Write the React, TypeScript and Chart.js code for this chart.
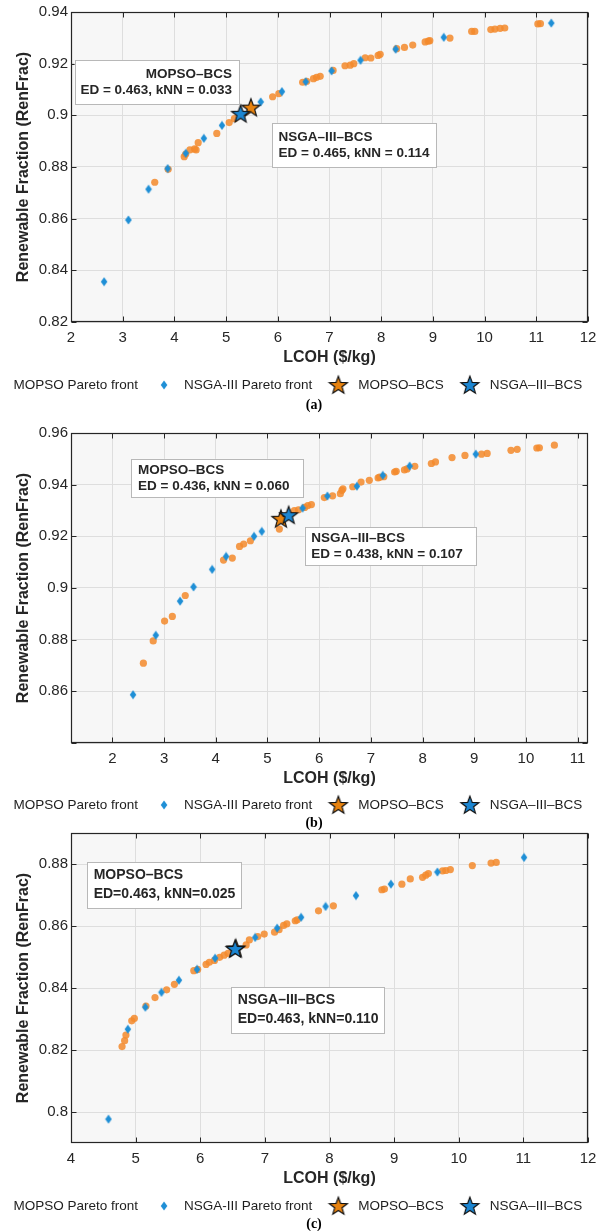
import React, { useEffect, useRef } from 'react';
import { Chart, registerables } from 'chart.js';

Chart.register(...registerables);

// ---------- Shared labels ----------
const LEGEND_LABELS = ['MOPSO Pareto front', 'NSGA-III Pareto front', 'MOPSO–BCS', 'NSGA–III–BCS'];
const X_TITLE = 'LCOH ($/kg)';
const Y_TITLE = 'Renewable Fraction (RenFrac)';

// ---------- Panel (a) ----------
const A_X_TICKS = [2, 3, 4, 5, 6, 7, 8, 9, 10, 11, 12];
const A_Y_TICKS = [0.82, 0.84, 0.86, 0.88, 0.9, 0.92, 0.94];
const A_MOPSO_X = [3.62, 3.88, 4.19, 4.22, 4.30, 4.39, 4.42, 4.46, 4.82, 5.06, 5.16, 5.90, 6.02, 6.48, 6.56, 6.69, 6.75, 6.82, 7.07, 7.30, 7.40, 7.47, 7.69, 7.80, 7.94, 7.98, 8.30, 8.45, 8.61, 8.85, 8.91, 8.94, 9.33, 9.75, 9.81, 10.12, 10.20, 10.30, 10.39, 11.03, 11.08];
const A_MOPSO_Y = [0.8741, 0.8791, 0.8840, 0.8850, 0.8866, 0.8870, 0.8866, 0.8894, 0.8930, 0.8972, 0.8987, 0.9072, 0.9084, 0.9128, 0.9132, 0.9142, 0.9147, 0.9151, 0.9174, 0.9192, 0.9194, 0.9200, 0.9223, 0.9222, 0.9232, 0.9236, 0.9258, 0.9263, 0.9272, 0.9284, 0.9287, 0.9289, 0.9299, 0.9325, 0.9325, 0.9332, 0.9334, 0.9337, 0.9338, 0.9354, 0.9355];
const A_NSGA_X = [2.64, 3.11, 3.50, 3.87, 4.22, 4.57, 4.92, 5.67, 6.08, 6.54, 7.04, 7.60, 8.28, 9.21, 11.29];
const A_NSGA_Y = [0.8356, 0.8595, 0.8714, 0.8794, 0.8853, 0.8911, 0.8961, 0.9052, 0.9092, 0.9130, 0.9172, 0.9213, 0.9256, 0.9302, 0.9357];
const A_MOPSO_BCS = [5.48, 0.9030];
const A_NSGA_BCS = [5.28, 0.9006];
const A_MOPSO_NOTE = ['MOPSO–BCS', 'ED = 0.463, kNN = 0.033'];
const A_NSGA_NOTE = ['NSGA–III–BCS', 'ED = 0.465, kNN = 0.114'];

// ---------- Panel (b) ----------
const B_X_TICKS = [2, 3, 4, 5, 6, 7, 8, 9, 10, 11];
const B_Y_TICKS = [0.84, 0.86, 0.88, 0.9, 0.92, 0.94, 0.96];
const B_MOPSO_X = [2.60, 2.79, 3.01, 3.16, 3.41, 4.15, 4.32, 4.46, 4.54, 4.67, 5.23, 5.52, 5.60, 5.72, 5.78, 5.85, 6.10, 6.26, 6.41, 6.44, 6.46, 6.65, 6.81, 6.97, 7.14, 7.17, 7.25, 7.46, 7.49, 7.65, 7.70, 7.85, 8.17, 8.25, 8.57, 8.82, 9.14, 9.25, 9.71, 9.83, 10.21, 10.26, 10.55];
const B_MOPSO_Y = [0.8709, 0.8795, 0.8872, 0.8890, 0.8971, 0.9108, 0.9116, 0.9161, 0.9170, 0.9183, 0.9228, 0.9300, 0.9303, 0.9312, 0.9319, 0.9323, 0.9350, 0.9357, 0.9365, 0.9378, 0.9384, 0.9392, 0.9410, 0.9417, 0.9426, 0.9429, 0.9431, 0.9449, 0.9452, 0.9457, 0.9461, 0.9471, 0.9482, 0.9488, 0.9505, 0.9513, 0.9518, 0.9521, 0.9533, 0.9537, 0.9542, 0.9543, 0.9553];
const B_NSGA_X = [2.40, 2.84, 3.31, 3.57, 3.93, 4.20, 4.74, 4.89, 5.68, 6.16, 6.73, 7.23, 7.75, 9.03];
const B_NSGA_Y = [0.8587, 0.8817, 0.8949, 0.9004, 0.9072, 0.9122, 0.9200, 0.9219, 0.9309, 0.9356, 0.9394, 0.9436, 0.9472, 0.9518];
const B_MOPSO_BCS = [5.26, 0.9268];
const B_NSGA_BCS = [5.41, 0.9282];
const B_MOPSO_NOTE = ['MOPSO–BCS', 'ED = 0.436, kNN = 0.060'];
const B_NSGA_NOTE = ['NSGA–III–BCS', 'ED = 0.438, kNN = 0.107'];

// ---------- Panel (c) ----------
const C_X_TICKS = [4, 5, 6, 7, 8, 9, 10, 11, 12];
const C_Y_TICKS = [0.8, 0.82, 0.84, 0.86, 0.88];
const C_MOPSO_X = [4.79, 4.83, 4.85, 4.94, 4.98, 5.16, 5.30, 5.48, 5.60, 5.90, 5.96, 6.09, 6.14, 6.22, 6.30, 6.37, 6.43, 6.71, 6.76, 6.89, 6.99, 7.15, 7.22, 7.29, 7.34, 7.47, 7.50, 7.83, 8.06, 8.81, 8.85, 9.12, 9.25, 9.44, 9.49, 9.53, 9.75, 9.80, 9.87, 10.21, 10.50, 10.58];
const C_MOPSO_Y = [0.8211, 0.8230, 0.8248, 0.8294, 0.8302, 0.8342, 0.8369, 0.8394, 0.8412, 0.8456, 0.8460, 0.8476, 0.8483, 0.8489, 0.8499, 0.8506, 0.8512, 0.8539, 0.8555, 0.8566, 0.8574, 0.8580, 0.8588, 0.8602, 0.8607, 0.8617, 0.8620, 0.8649, 0.8665, 0.8717, 0.8719, 0.8735, 0.8752, 0.8757, 0.8764, 0.8769, 0.8778, 0.8779, 0.8782, 0.8795, 0.8803, 0.8805];
const C_NSGA_X = [4.58, 4.88, 5.15, 5.40, 5.67, 5.95, 6.23, 6.85, 7.19, 7.56, 7.94, 8.41, 8.95, 9.67, 11.01];
const C_NSGA_Y = [0.7977, 0.8267, 0.8338, 0.8386, 0.8425, 0.8460, 0.8496, 0.8563, 0.8593, 0.8628, 0.8663, 0.8698, 0.8735, 0.8774, 0.8821];
const C_MOPSO_BCS = [6.55, 0.8528];
const C_NSGA_BCS = [6.54, 0.8526];
const C_MOPSO_NOTE = ['MOPSO–BCS', 'ED=0.463, kNN=0.025'];
const C_NSGA_NOTE = ['NSGA–III–BCS', 'ED=0.463, kNN=0.110'];

// ---------- Styles ----------
const SANS = '"Liberation Sans", Arial, Helvetica, sans-serif';
const SERIF = '"Liberation Serif", "Times New Roman", serif';
const INK = '#262626';
const GRID = '#dedede';
const PLOT_BG = '#f7f7f7';
const ORANGE_DOT = 'rgba(243,137,43,0.85)';
const BLUE_DIAMOND = '#1f8fd6';
const ORANGE_STAR = '#e8830f';
const BLUE_STAR = '#1c86d2';

function makeDiamond(color: string) {
  const c = document.createElement('canvas');
  c.width = 8; c.height = 10;
  const g = c.getContext('2d')!;
  g.fillStyle = color;
  g.beginPath();
  g.moveTo(4, 0.6); g.lineTo(7.3, 5); g.lineTo(4, 9.4); g.lineTo(0.7, 5);
  g.closePath(); g.fill();
  return c;
}

function makeStar(color: string) {
  const c = document.createElement('canvas');
  c.width = 22; c.height = 22;
  const g = c.getContext('2d')!;
  const cx = 11, cy = 11.6, R = 9.4, r = 3.9;
  g.beginPath();
  for (let i = 0; i < 10; i++) {
    const ang = -Math.PI / 2 + (i * Math.PI) / 5;
    const rad = i % 2 === 0 ? R : r;
    const px = cx + rad * Math.cos(ang), py = cy + rad * Math.sin(ang);
    if (i === 0) g.moveTo(px, py); else g.lineTo(px, py);
  }
  g.closePath();
  g.fillStyle = color; g.fill();
  g.strokeStyle = '#111'; g.lineWidth = 1.2; g.lineJoin = 'miter'; g.stroke();
  return c;
}

const fmt = (v: number) => String(+Number(v).toFixed(2));

const matlabPlugin = {
  id: 'matlab',
  beforeDraw(chart: any) {
    const { ctx, chartArea: a } = chart;
    ctx.save();
    ctx.fillStyle = PLOT_BG;
    ctx.fillRect(a.left, a.top, a.right - a.left, a.bottom - a.top);
    ctx.restore();
  },
  afterDraw(chart: any, _args: any, opts: any) {
    const { ctx, chartArea: a, scales } = chart;
    const x = scales.x, y = scales.y;
    ctx.save();
    // inner ticks + box
    ctx.strokeStyle = INK;
    ctx.lineWidth = 1;
    const line = (x0: number, y0: number, x1: number, y1: number) => {
      ctx.beginPath(); ctx.moveTo(x0, y0); ctx.lineTo(x1, y1); ctx.stroke();
    };
    const L = a.left + 0.5, R = a.right - 0.5, T = a.top + 0.5, B = a.bottom - 0.5;
    x.ticks.forEach((t: any) => {
      const px = Math.round(x.getPixelForValue(t.value)) + 0.5;
      line(px, B, px, B - 5); line(px, T, px, T + 5);
    });
    y.ticks.forEach((t: any) => {
      const py = Math.round(y.getPixelForValue(t.value)) + 0.5;
      line(L, py, L + 5, py); line(R, py, R - 5, py);
    });
    ctx.lineWidth = 1.2;
    ctx.strokeRect(L, T, R - L, B - T);

    // annotation boxes
    (opts.notes || []).forEach((n: any) => {
      const x0 = x.getPixelForValue(n.x0), x1 = x.getPixelForValue(n.x1);
      const y0 = y.getPixelForValue(n.y0), y1 = y.getPixelForValue(n.y1);
      ctx.fillStyle = '#ffffff';
      ctx.fillRect(x0, y0, x1 - x0, y1 - y0);
      ctx.strokeStyle = '#b8b8b8';
      ctx.lineWidth = 1;
      ctx.strokeRect(Math.round(x0) + 0.5, Math.round(y0) + 0.5, Math.round(x1 - x0), Math.round(y1 - y0));
      ctx.fillStyle = INK;
      ctx.font = `bold ${n.size}px ${SANS}`;
      ctx.textBaseline = 'middle';
      const mid = (y0 + y1) / 2;
      n.lines.forEach((s: string, i: number) => {
        const ty = mid + (i - (n.lines.length - 1) / 2) * n.gap;
        if (n.align === 'right') { ctx.textAlign = 'right'; ctx.fillText(s, x1 - 7, ty); }
        else { ctx.textAlign = 'left'; ctx.fillText(s, x0 + 6.5, ty); }
      });
    });

    // legend
    const ly = a.bottom + opts.legendOffset;
    ctx.font = `13.5px ${SANS}`;
    ctx.textBaseline = 'middle';
    ctx.textAlign = 'left';
    let cursor = 13.5;
    chart.data.datasets.forEach((ds: any, i: number) => {
      let tx: number, mx: number;
      if (i === 0) { tx = cursor; mx = tx - 20; }
      else { mx = cursor + 26; tx = mx + 20; }
      const st = ds.pointStyle;
      if (st && typeof st === 'object') {
        ctx.drawImage(st, mx - st.width / 2, ly - st.height / 2);
      } else {
        ctx.fillStyle = ds.backgroundColor;
        ctx.beginPath(); ctx.arc(mx, ly, 3.6, 0, Math.PI * 2); ctx.fill();
      }
      ctx.fillStyle = '#1e1e1e';
      ctx.fillText(ds.label, tx, ly);
      cursor = tx + ctx.measureText(ds.label).width;
    });

    // caption
    ctx.font = `bold 14px ${SERIF}`;
    ctx.textAlign = 'center';
    ctx.fillStyle = '#000';
    ctx.fillText(opts.caption, 314, a.bottom + opts.captionOffset);
    ctx.restore();
  },
};

type Panel = {
  top: number; height: number; padTop: number;
  xmin: number; xmax: number; ymin: number; ymax: number;
  xTicks: number[]; yTicks: number[]; hideY?: number[];
  mx: number[]; my: number[]; nx: number[]; ny: number[];
  mb: number[]; nb: number[];
  notes: any[]; caption: string; legendOffset: number; captionOffset: number;
};

const PANELS: Panel[] = [
  {
    top: 0, height: 420, padTop: 12,
    xmin: 2, xmax: 12, ymin: 0.82, ymax: 0.94,
    xTicks: A_X_TICKS, yTicks: A_Y_TICKS,
    mx: A_MOPSO_X, my: A_MOPSO_Y, nx: A_NSGA_X, ny: A_NSGA_Y,
    mb: A_MOPSO_BCS, nb: A_NSGA_BCS,
    notes: [
      { x0: 2.07, x1: 5.25, y0: 0.9214, y1: 0.9044, lines: A_MOPSO_NOTE, align: 'right', size: 13.5, gap: 16 },
      { x0: 5.89, x1: 9.06, y0: 0.8970, y1: 0.8800, lines: A_NSGA_NOTE, align: 'left', size: 13.5, gap: 16 },
    ],
    caption: '(a)', legendOffset: 63, captionOffset: 83,
  },
  {
    top: 420, height: 410, padTop: 13,
    xmin: 1.2, xmax: 11.2, ymin: 0.84, ymax: 0.96,
    xTicks: B_X_TICKS, yTicks: B_Y_TICKS, hideY: [0.84],
    mx: B_MOPSO_X, my: B_MOPSO_Y, nx: B_NSGA_X, ny: B_NSGA_Y,
    mb: B_MOPSO_BCS, nb: B_NSGA_BCS,
    notes: [
      { x0: 2.37, x1: 5.69, y0: 0.9500, y1: 0.9352, lines: B_MOPSO_NOTE, align: 'left', size: 13.5, gap: 16 },
      { x0: 5.72, x1: 9.03, y0: 0.9236, y1: 0.9089, lines: B_NSGA_NOTE, align: 'left', size: 13.5, gap: 16 },
    ],
    caption: '(b)', legendOffset: 62, captionOffset: 80,
  },
  {
    top: 820, height: 411, padTop: 13,
    xmin: 4, xmax: 12, ymin: 0.79, ymax: 0.89,
    xTicks: C_X_TICKS, yTicks: C_Y_TICKS,
    mx: C_MOPSO_X, my: C_MOPSO_Y, nx: C_NSGA_X, ny: C_NSGA_Y,
    mb: C_MOPSO_BCS, nb: C_NSGA_BCS,
    notes: [
      { x0: 4.25, x1: 6.63, y0: 0.8806, y1: 0.8658, lines: C_MOPSO_NOTE, align: 'left', size: 14, gap: 19 },
      { x0: 6.48, x1: 8.85, y0: 0.8403, y1: 0.8255, lines: C_NSGA_NOTE, align: 'left', size: 14, gap: 19 },
    ],
    caption: '(c)', legendOffset: 63, captionOffset: 81,
  },
];

const pts = (xs: number[], ys: number[]) => xs.map((v, i) => ({ x: v, y: ys[i] }));

function buildConfig(p: Panel): any {
  const diamond = makeDiamond(BLUE_DIAMOND);
  const oStar = makeStar(ORANGE_STAR);
  const bStar = makeStar(BLUE_STAR);
  const tickFont = { family: SANS, size: 15 };
  const titleFont = { family: SANS, size: 16, weight: 'bold' };
  return {
    type: 'scatter',
    data: {
      datasets: [
        { label: LEGEND_LABELS[0], data: pts(p.mx, p.my), pointStyle: 'circle', pointRadius: 3.6, backgroundColor: ORANGE_DOT, borderWidth: 0, order: 4 },
        { label: LEGEND_LABELS[1], data: pts(p.nx, p.ny), pointStyle: diamond, pointRadius: 4, backgroundColor: BLUE_DIAMOND, borderWidth: 0, order: 3 },
        { label: LEGEND_LABELS[2], data: [{ x: p.mb[0], y: p.mb[1] }], pointStyle: oStar, pointRadius: 9, backgroundColor: ORANGE_STAR, borderWidth: 0, order: 2 },
        { label: LEGEND_LABELS[3], data: [{ x: p.nb[0], y: p.nb[1] }], pointStyle: bStar, pointRadius: 9, backgroundColor: BLUE_STAR, borderWidth: 0, order: 1 },
      ],
    },
    options: {
      animation: false,
      responsive: false,
      events: [],
      layout: { padding: { top: p.padTop, bottom: p.height - p.padTop - 310 - 50, left: 0, right: 18 } },
      plugins: {
        legend: { display: false },
        tooltip: { enabled: false },
        matlab: { notes: p.notes, caption: p.caption, legendOffset: p.legendOffset, captionOffset: p.captionOffset },
      },
      scales: {
        x: {
          type: 'linear', min: p.xmin, max: p.xmax,
          afterBuildTicks: (s: any) => { s.ticks = p.xTicks.map((v) => ({ value: v })); },
          afterFit: (s: any) => { s.height = 50; },
          grid: { color: GRID, lineWidth: 1, drawTicks: false },
          border: { display: false },
          ticks: { font: tickFont, color: INK, padding: 7, autoSkip: false, maxRotation: 0, callback: (v: number) => fmt(v) },
          title: { display: true, text: X_TITLE, font: titleFont, color: INK, padding: { top: 0, bottom: 5 } },
        },
        y: {
          type: 'linear', min: p.ymin, max: p.ymax,
          afterBuildTicks: (s: any) => { s.ticks = p.yTicks.map((v) => ({ value: v })); },
          afterFit: (s: any) => { s.width = 71; },
          grid: { color: GRID, lineWidth: 1, drawTicks: false },
          border: { display: false },
          ticks: {
            font: tickFont, color: INK, padding: 3, autoSkip: false,
            callback: (v: number) => ((p.hideY || []).some((h) => Math.abs(h - v) < 1e-9) ? '' : fmt(v)),
          },
          title: { display: true, text: Y_TITLE, font: titleFont, color: INK, padding: { top: 14, bottom: 0 } },
        },
      },
    },
    plugins: [matlabPlugin],
  };
}

function PanelChart({ panel }: { panel: Panel }) {
  const ref = useRef<HTMLCanvasElement>(null);
  useEffect(() => {
    if (!ref.current) return;
    const chart = new Chart(ref.current, buildConfig(panel));
    return () => chart.destroy();
  }, [panel]);
  return (
    <canvas
      ref={ref}
      width={606}
      height={panel.height}
      style={{ position: 'absolute', left: 0, top: panel.top, width: 606, height: panel.height }}
    />
  );
}

export default function App() {
  return (
    <div style={{ position: 'absolute', left: 0, top: 0, width: 606, height: 1231, background: '#ffffff', overflow: 'hidden' }}>
      {PANELS.map((p, i) => (
        <PanelChart key={i} panel={p} />
      ))}
    </div>
  );
}
